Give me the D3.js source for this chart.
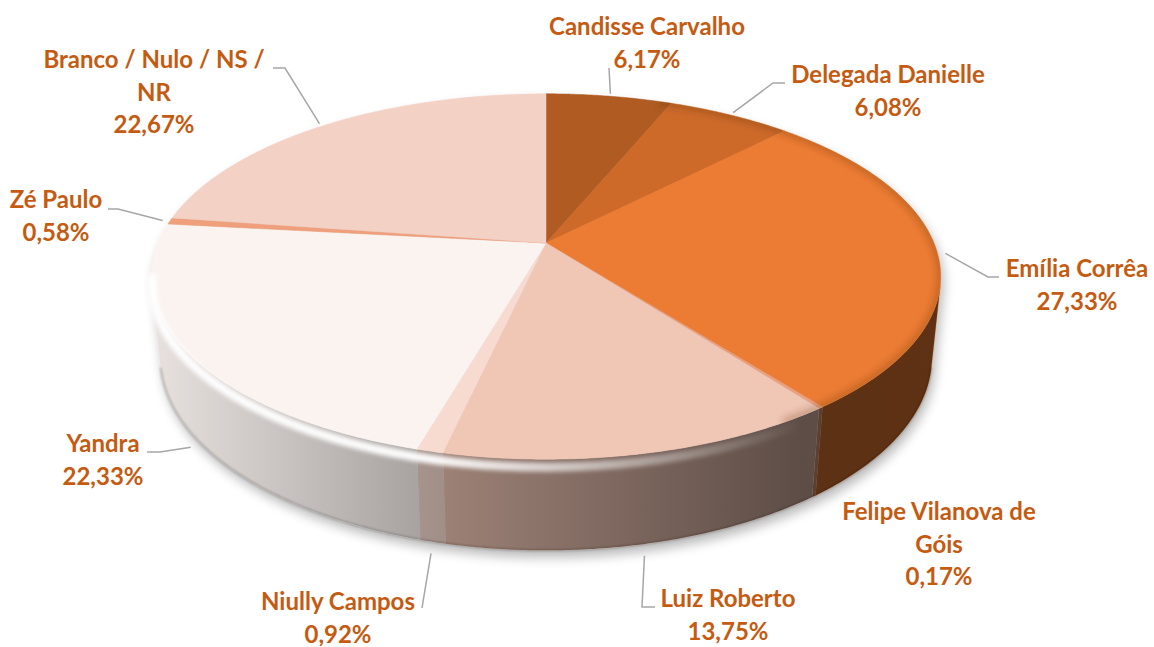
<!DOCTYPE html>
<html>
<head>
<meta charset="utf-8">
<script src="https://cdn.jsdelivr.net/npm/d3@7"></script>
<style>
  body { margin: 0; background: #fff; }
  svg { display: block; }
  .label { font-family: Lato, "Open Sans", sans-serif; font-weight: 700; font-size: 24px; fill: #C55A11; }
  .leader { fill: none; stroke: #A6A6A6; stroke-width: 1.5; }
</style>
</head>
<body>
<svg id="chart" width="1154" height="647"></svg>
<script>
// data, clockwise from 12 o'clock
const candidates = [
  "Candisse Carvalho",
  "Delegada Danielle",
  "Emília Corrêa",
  "Felipe Vilanova de Góis",
  "Luiz Roberto",
  "Niully Campos",
  "Yandra",
  "Zé Paulo",
  "Branco / Nulo / NS / NR",
];

const shares = [6.17, 6.08, 27.33, 0.17, 13.75, 0.92, 22.33, 0.58, 22.67];

// wrapped the way the labels break in the picture
const labelLines = [
  ["Candisse Carvalho"],
  ["Delegada Danielle"],
  ["Emília Corrêa"],
  ["Felipe Vilanova de", "Góis"],
  ["Luiz Roberto"],
  ["Niully Campos"],
  ["Yandra"],
  ["Zé Paulo"],
  ["Branco / Nulo / NS /", "NR"],
];

const sliceColors = [
  "#AF5B21", "#CD6A2A", "#EC7C33", "#E9A07E", "#F0C6B5",
  "#F7DBD1", "#FAF3F0", "#EF9F7B", "#F3D1C4",
];

// label layout: centre x, first baseline
const labelAt = [
  [647, 35], [888, 83], [1077, 277], [939, 520], [728, 607],
  [338, 610], [103, 452], [56, 208], [154, 68],
];
// leader: text end point and knee (null = no leader)
const leaderAt = [
  [609, 68, 609, 68], [785, 83, 773, 83], [999, 277, 988, 277], null,
  [655, 607, 642, 607], [422, 608, 422, 608], [147, 452, 160, 452],
  [108, 209, 118, 209], [273, 68, 285, 68],
];

const lineGap = 32.5;

// 3d pie geometry (radius = 1 unit)
const cx = 546, cy = 243;
const F = 388;          // focal * R / D
const rD = 0.206;       // R / D
const sinT = 0.455, cosT = Math.sqrt(1 - sinT * sinT);
const thick = 0.235;

const fmt = d3.formatLocale({decimal: ",", thousands: ".", grouping: [3], currency: ["R$", ""]}).format(".2f");

function proj(theta, rad, h) {
  const X = rad * Math.sin(theta), Z = -rad * Math.cos(theta);
  const d = 1 - rD * (Z * cosT + h * sinT);
  return [cx + F * X / d, cy + F * (Z * sinT - h * cosT) / d];
}

function arcPts(a0, a1, rad, h) {
  const n = Math.max(2, Math.ceil((a1 - a0) / (Math.PI / 360)));
  return d3.range(n + 1).map(i => proj(a0 + (a1 - a0) * i / n, rad, h));
}

const line = d3.line();
const pie = d3.pie().sort(null).value(d => d);
const arcs = pie(shares);

// visible part of the rim wall
const sL = Math.acos(-rD / cosT), sR = 2 * Math.PI - sL;

const svg = d3.select("#chart");
const defs = svg.append("defs");

const shade = defs.append("linearGradient")
    .attr("id", "side-shade")
    .attr("gradientUnits", "userSpaceOnUse")
    .attr("x1", 150).attr("x2", 945).attr("y1", 0).attr("y2", 0);
[[0, 0.07], [0.352, 0.34], [0.818, 0.61], [1, 0.6]].forEach(s => {
  shade.append("stop").attr("offset", s[0]).attr("stop-color", "#000").attr("stop-opacity", s[1]);
});

const shine = defs.append("linearGradient")
    .attr("id", "rim-shine")
    .attr("gradientUnits", "userSpaceOnUse")
    .attr("x1", 150).attr("x2", 945).attr("y1", 0).attr("y2", 0);
[[0, 0.95], [0.35, 0.95], [0.6, 0.45], [0.82, 0]].forEach(s => {
  shine.append("stop").attr("offset", s[0]).attr("stop-color", "#fff").attr("stop-opacity", s[1]);
});

defs.append("filter").attr("id", "soft").attr("x", "-10%").attr("y", "-10%").attr("width", "120%").attr("height", "130%")
  .append("feGaussianBlur").attr("stdDeviation", 6);
defs.append("filter").attr("id", "blur1")
  .append("feGaussianBlur").attr("stdDeviation", 1.3);
defs.append("filter").attr("id", "blur2").attr("y", "-20%").attr("height", "140%")
  .append("feGaussianBlur").attr("stdDeviation", 2);
defs.append("filter").attr("id", "blur3").attr("x", "-10%").attr("y", "-10%").attr("width", "120%").attr("height", "120%")
  .append("feGaussianBlur").attr("stdDeviation", 3);

const topOutline = line(arcPts(0, 2 * Math.PI, 1, 0)) + "Z";
defs.append("clipPath").attr("id", "top-clip").append("path").attr("d", topOutline);

function sidePath(d) {
  const a0 = Math.max(d.startAngle, sL), a1 = Math.min(d.endAngle, sR);
  if (a1 <= a0) return null;
  const pts = arcPts(a0, a1, 1, 0).concat(arcPts(a0, a1, 1, -thick).reverse());
  return line(pts) + "Z";
}

// drop shadow
const bodyPts = arcPts(sR - 2 * Math.PI, sL, 1, 0).concat(arcPts(sL, sR, 1, -thick));
svg.append("path")
    .attr("d", line(bodyPts) + "Z")
    .attr("transform", "translate(3,7)")
    .attr("fill", "#000")
    .attr("opacity", 0.28)
    .attr("filter", "url(#soft)");

// walls
const sides = arcs.filter(d => sidePath(d));
svg.append("g").selectAll("path")
    .data(sides)
  .enter().append("path")
    .attr("d", sidePath)
    .attr("fill", d => sliceColors[d.index])
    .attr("stroke", d => sliceColors[d.index])
    .attr("stroke-width", 0.5);

svg.append("g").selectAll("path")
    .data(sides)
  .enter().append("path")
    .attr("d", sidePath)
    .attr("fill", "url(#side-shade)");

// dark bottom edge
svg.append("path")
    .attr("d", line(arcPts(sL, sR, 1, -thick)))
    .attr("fill", "none")
    .attr("stroke", "#000")
    .attr("stroke-opacity", 0.22)
    .attr("stroke-width", 2)
    .attr("filter", "url(#blur1)");

// top faces
svg.append("g").selectAll("path")
    .data(arcs)
  .enter().append("path")
    .attr("d", d => line([[cx, cy]].concat(arcPts(d.startAngle, d.endAngle, 1, 0))) + "Z")
    .attr("fill", d => sliceColors[d.index])
    .attr("stroke", d => sliceColors[d.index])
    .attr("stroke-width", 0.5);

// bevel: shade on the right rim, shine along the front
svg.append("path")
    .attr("d", line(arcPts(0.35, 2.6, 1, 0)))
    .attr("fill", "none")
    .attr("stroke", "#5a2a0a")
    .attr("stroke-opacity", 0.25)
    .attr("stroke-width", 9)
    .attr("clip-path", "url(#top-clip)")
    .attr("filter", "url(#blur3)");

svg.append("path")
    .attr("d", line(arcPts(sL - 0.2, sR + 0.1, 1, -0.02)))
    .attr("fill", "none")
    .attr("stroke", "url(#rim-shine)")
    .attr("stroke-width", 9)
    .attr("filter", "url(#blur2)");

// leaders
arcs.forEach((d, i) => {
  const L = leaderAt[i];
  if (!L) return;
  const mid = (d.startAngle + d.endAngle) / 2;
  const front = mid > sL && mid < sR;
  const a = front ? proj(mid, 1.015, -thick - 0.02) : proj(mid, 1.02, 0);
  svg.append("path")
      .attr("class", "leader")
      .attr("d", line([[L[0], L[1]], [L[2], L[3]], a]));
});

// labels
const labels = svg.append("g").selectAll("text")
    .data(arcs)
  .enter().append("text")
    .attr("class", "label")
    .attr("text-anchor", "middle");

labels.each(function(d, i) {
  const t = d3.select(this);
  const rows = labelLines[i].concat([fmt(shares[i]) + "%"]);
  rows.forEach((r, j) => {
    t.append("tspan")
        .attr("x", labelAt[i][0])
        .attr("y", labelAt[i][1] + j * lineGap)
        .text(r);
  });
});
</script>
</body>
</html>
